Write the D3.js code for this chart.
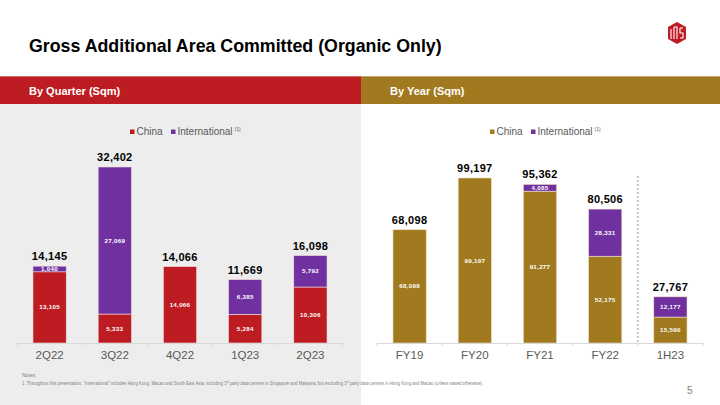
<!DOCTYPE html>
<html><head><meta charset="utf-8">
<script src="https://cdn.jsdelivr.net/npm/d3@7"></script>
<style>body{margin:0;background:#fff;}svg{display:block;font-family:"Liberation Sans",Arial,sans-serif;}</style>
</head><body>
<svg id="c" width="720" height="405"></svg>
<script>
const quarters = ["2Q22","3Q22","4Q22","1Q23","2Q23"];
const qChina = [13105,5333,14066,5284,10306];
const qIntl = [1040,27069,0,6385,5792];
const qTotal = [14145,32402,14066,11669,16098];
const years = ["FY19","FY20","FY21","FY22","1H23"];
const yChina = [68098,99197,91277,52175,15590];
const yIntl = [0,0,4085,28331,12177];
const yTotal = [68098,99197,95362,80506,27767];
const seriesNames = ["China","International"];

const RED="#BE1C23", PURPLE="#7030A0", GOLD="#A17A1F";
const svg=d3.select("#c");
const fmt=d3.format(",");

// background panels
svg.append("rect").attr("x",0).attr("y",104).attr("width",361).attr("height",301).attr("fill","#EDEDED");
svg.append("rect").attr("x",0).attr("y",76).attr("width",361).attr("height",28).attr("fill",RED);
svg.append("rect").attr("x",361).attr("y",76).attr("width",359).attr("height",28).attr("fill",GOLD);
svg.append("rect").attr("x",0).attr("y",76).attr("width",720).attr("height",1).attr("fill","#fff").attr("opacity",0.35);

svg.append("text").attr("x",29).attr("y",52).attr("font-size",17.8).attr("font-weight","bold").attr("fill","#000")
  .text("Gross Additional Area Committed (Organic Only)");
svg.append("text").attr("x",29).attr("y",95).attr("font-size",11).attr("font-weight","bold").attr("fill","#fff").text("By Quarter (Sqm)");
svg.append("text").attr("x",390).attr("y",95).attr("font-size",11).attr("font-weight","bold").attr("fill","#fff").text("By Year (Sqm)");

// logo
const lg=svg.append("g").attr("transform","translate(677,33)");
lg.append("path").attr("d","M0,-11 L9,-6 L9,6 L0,11 L-9,6 L-9,-6 Z").attr("fill",RED);
lg.append("path").attr("d","M-6,-4 V6 M-3,-6 V6 M-3,-6 H0 V6 M3,-5 H6 M3,-5 V0 H6 V5 H3").attr("stroke","#fff").attr("stroke-width",1.1).attr("fill","none");

function drawChart(cats, china, intl, total, chinaColor, strokeCol, x0, x1, yMax, yTopPx, legendX, dashed){
  const base=343;
  const x=d3.scaleBand().domain(cats).range([x0,x1]).paddingInner(0.49).paddingOuter(0.245);
  const y=d3.scaleLinear().domain([0,yMax]).range([base,yTopPx]);
  const g=svg.append("g");
  const data=cats.map((c,i)=>({c,china:china[i],intl:intl[i],total:total[i]}));
  const stack=d3.stack().keys(["china","intl"])(data);
  const colors=[chinaColor,PURPLE];
  stack.forEach((layer,li)=>{
    const L=layer.filter(d=>d[1]-d[0]>0);
    g.selectAll(null).data(L).enter().append("rect")
      .attr("x",d=>x(d.data.c)).attr("width",x.bandwidth())
      .attr("y",d=>y(d[1])).attr("height",d=>y(d[0])-y(d[1]))
      .attr("fill",colors[li]).attr("stroke",strokeCol).attr("stroke-width",0.6);
    g.selectAll(null).data(L).enter().append("text")
      .attr("x",d=>x(d.data.c)+x.bandwidth()/2).attr("y",d=>(y(d[0])+y(d[1]))/2+2)
      .attr("text-anchor","middle").attr("font-size",6.2).attr("font-weight","bold").attr("fill","#fff")
      .attr("letter-spacing",0.3)
      .text(d=>fmt(d[1]-d[0]));
  });
  g.selectAll(null).data(data).enter().append("text")
    .attr("x",d=>x(d.c)+x.bandwidth()/2).attr("y",d=>y(d.total)-6)
    .attr("text-anchor","middle").attr("font-size",11).attr("font-weight","bold").attr("fill","#000")
    .attr("letter-spacing",0.3)
    .text(d=>fmt(d.total));
  const ax=g.append("g").attr("transform",`translate(0,${base})`).call(d3.axisBottom(x).tickSize(0).tickPadding(8));
  ax.select(".domain").attr("stroke","#D9D9D9");
  ax.selectAll("text").attr("font-size",11.5).attr("fill","#595959").attr("font-family","Liberation Sans, Arial, sans-serif");
  const bounds=d3.range(cats.length+1).map(i=>x0+i*(x1-x0)/cats.length);
  g.selectAll(null).data(bounds).enter().append("line").attr("x1",d=>d).attr("x2",d=>d)
    .attr("y1",base).attr("y2",base+3).attr("stroke","#D9D9D9");
  if(dashed){
    g.append("line").attr("x1",bounds[4]).attr("x2",bounds[4]).attr("y1",176).attr("y2",base)
      .attr("stroke","#A6A6A6").attr("stroke-width",1.2).attr("stroke-dasharray","2,2");
  }
  const lgd=g.append("g").attr("transform",`translate(${legendX},135)`);
  lgd.append("rect").attr("x",0).attr("y",-5.5).attr("width",4.5).attr("height",4.5).attr("fill",chinaColor);
  lgd.append("text").attr("x",6.5).attr("y",0).attr("font-size",10).attr("fill","#595959").text(seriesNames[0]);
  lgd.append("rect").attr("x",41).attr("y",-5.5).attr("width",4.5).attr("height",4.5).attr("fill",PURPLE);
  lgd.append("text").attr("x",47.5).attr("y",0).attr("font-size",10).attr("fill","#595959").text(seriesNames[1]);
  lgd.append("text").attr("x",104.5).attr("y",-4).attr("font-size",5).attr("fill","#595959").text("(1)");
}
drawChart(quarters,qChina,qIntl,qTotal,RED,"#F2DCDB",17,343,32402,167,130,false);
drawChart(years,yChina,yIntl,yTotal,GOLD,"#EFE3C8",377,703,99197,178,490,true);

// notes
svg.append("text").attr("x",22).attr("y",377).attr("font-size",5).attr("fill","#7F7F7F").text("Notes:");
const ng=svg.append("g");
const nt=ng.append("text").attr("x",0).attr("y",0).attr("font-size",5.2).attr("fill","#7F7F7F");
nt.append("tspan").text("1.   Throughout this presentation, \u201cInternational\u201d includes Hong Kong, Macau and South East Asia, including 3");
nt.append("tspan").attr("font-size",3).attr("dy",-1.5).text("rd");
nt.append("tspan").attr("dy",1.5).text(" party data centers in Singapore and Malaysia, but excluding 3");
nt.append("tspan").attr("font-size",3).attr("dy",-1.5).text("rd");
nt.append("tspan").attr("dy",1.5).text(" party data centers in Hong Kong and Macau (unless stated otherwise).");
const w=nt.node().getBBox().width;
ng.attr("transform",`translate(22,384.5) scale(${461/w},1)`);
svg.append("text").attr("x",687).attr("y",394).attr("font-size",10).attr("fill","#7F7F7F").text("5");
</script>
</body></html>
